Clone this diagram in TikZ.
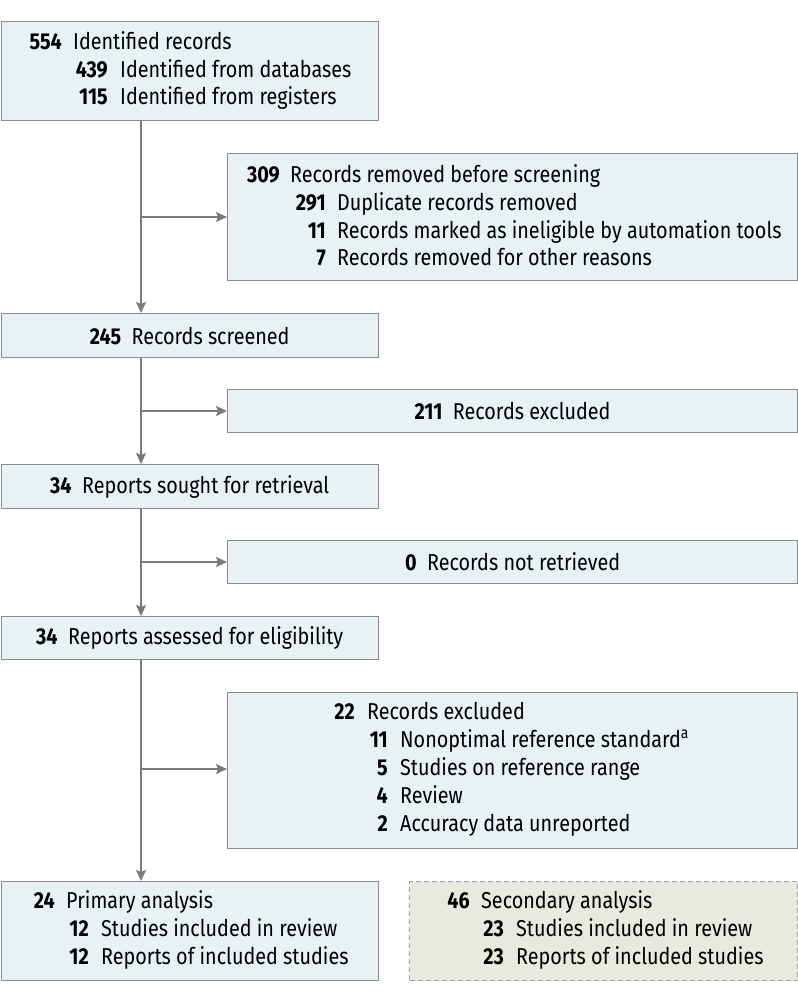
\documentclass[tikz,border=0pt]{standalone}
\usepackage{fontspec}
\setmainfont{Fira Sans}[FakeStretch=0.86]
\usetikzlibrary{arrows.meta}
\definecolor{boxfill}{HTML}{E8F2F5}
\definecolor{boxdraw}{HTML}{8C8C8C}
\definecolor{secfill}{HTML}{E8E9DF}
\definecolor{secdraw}{HTML}{98A8AC}
\definecolor{arrcol}{HTML}{7A7A7A}
\newcommand\fsz{\fontsize{23}{27}\selectfont}
\begin{document}
\begin{tikzpicture}[x=1pt,y=-1pt,
  box/.style={draw=boxdraw, fill=boxfill, line width=1.2pt, inner sep=0pt, anchor=north west, font=\fsz},
  secbox/.style={draw=secdraw, fill=secfill, line width=1.2pt, dash pattern=on 5pt off 3pt, inner sep=0pt, anchor=north west},
  num/.style={anchor=mid east, inner sep=0pt, yshift=-2.5pt, font=\fsz\bfseries},
  txt/.style={anchor=mid west, inner sep=0pt, yshift=-2.5pt, font=\fsz},
  arr/.style={draw=arrcol, line width=1.4pt, -{Stealth[length=11pt,width=10pt,inset=2pt]}}]
\useasboundingbox (0,0) rectangle (798,1002);

% boxes
\node[box, minimum width=377pt, minimum height=99pt] (b1) at (0.6,21) {};
\node[box, minimum width=570pt, minimum height=127pt] (b2) at (227,153) {};
\node[box, minimum width=377pt, minimum height=44pt] (b3) at (0.6,313) {\textbf{245}\hspace{10.5pt}Records screened};
\node[box, minimum width=570pt, minimum height=43pt] (b4) at (227,389) {\textbf{211}\hspace{10.5pt}Records excluded};
\node[box, minimum width=377pt, minimum height=44pt] (b5) at (0.6,464) {\textbf{34}\hspace{10.5pt}Reports sought for retrieval};
\node[box, minimum width=570pt, minimum height=43pt] (b6) at (227,540) {\textbf{0}\hspace{10.5pt}Records not retrieved};
\node[box, minimum width=377pt, minimum height=43pt] (b7) at (0.6,616) {\textbf{34}\hspace{10.5pt}Reports assessed for eligibility};
\node[box, minimum width=570pt, minimum height=156pt] (b8) at (227,692) {};
\node[box, minimum width=377pt, minimum height=99pt] (b9) at (0.6,881) {};
\node[secbox, minimum width=388pt, minimum height=99pt] (b10) at (409,881) {};

% texts of box 1
\node[num] (n1a) at (62,44.5) {554};  \node[txt] (t1a) at (73,44.5) {Identified records};
\node[num] (n1b) at (108,72) {439};   \node[txt] (t1b) at (120,72) {Identified from databases};
\node[num] (n1c) at (108,99.5) {115}; \node[txt] (t1c) at (120,99.5) {Identified from registers};

% texts of box 2
\node[num] (n2a) at (280,177) {309}; \node[txt] (t2a) at (290,177) {Records removed before screening};
\node[num] (n2b) at (326,205) {291}; \node[txt] (t2b) at (337,205) {Duplicate records removed};
\node[num] (n2c) at (326,233) {11};  \node[txt] (t2c) at (337,233) {Records marked as ineligible by automation tools};
\node[num] (n2d) at (326,260) {7};   \node[txt] (t2d) at (337,260) {Records removed for other reasons};

% texts of box 8
\node[num] (n8a) at (355,714) {22}; \node[txt] (t8a) at (367,714) {Records excluded};
\node[num] (n8b) at (388,742) {11}; \node[txt] (t8b) at (400,742) {Nonoptimal reference standard\textsuperscript{a}};
\node[num] (n8c) at (388,770) {5};  \node[txt] (t8c) at (400,770) {Studies on reference range};
\node[num] (n8d) at (388,798) {4};  \node[txt] (t8d) at (400,798) {Review};
\node[num] (n8e) at (388,826) {2};  \node[txt] (t8e) at (400,826) {Accuracy data unreported};

% texts of box 9
\node[num] (n9a) at (55,903) {24}; \node[txt] (t9a) at (66,903) {Primary analysis};
\node[num] (n9b) at (89,931) {12}; \node[txt] (t9b) at (101,931) {Studies included in review};
\node[num] (n9c) at (89,959) {12}; \node[txt] (t9c) at (101,959) {Reports of included studies};

% texts of box 10
\node[num] (n10a) at (470,903) {46}; \node[txt] (t10a) at (481,903) {Secondary analysis};
\node[num] (n10b) at (504,931) {23}; \node[txt] (t10b) at (516,931) {Studies included in review};
\node[num] (n10c) at (504,959) {23}; \node[txt] (t10c) at (516,959) {Reports of included studies};

% connectors
\coordinate (j1) at (141,217);
\coordinate (j2) at (141,411);
\coordinate (j3) at (141,562);
\coordinate (j4) at (141,769);
\draw[arr] (b1.south -| j1) -- (b3.north -| j1);
\draw[arr] (j1) -- (j1 -| b2.west);
\draw[arr] (b3.south -| j2) -- (b5.north -| j2);
\draw[arr] (j2) -- (j2 -| b4.west);
\draw[arr] (b5.south -| j3) -- (b7.north -| j3);
\draw[arr] (j3) -- (j3 -| b6.west);
\draw[arr] (b7.south -| j4) -- (b9.north -| j4);
\draw[arr] (j4) -- (j4 -| b8.west);
\end{tikzpicture}
\end{document}
